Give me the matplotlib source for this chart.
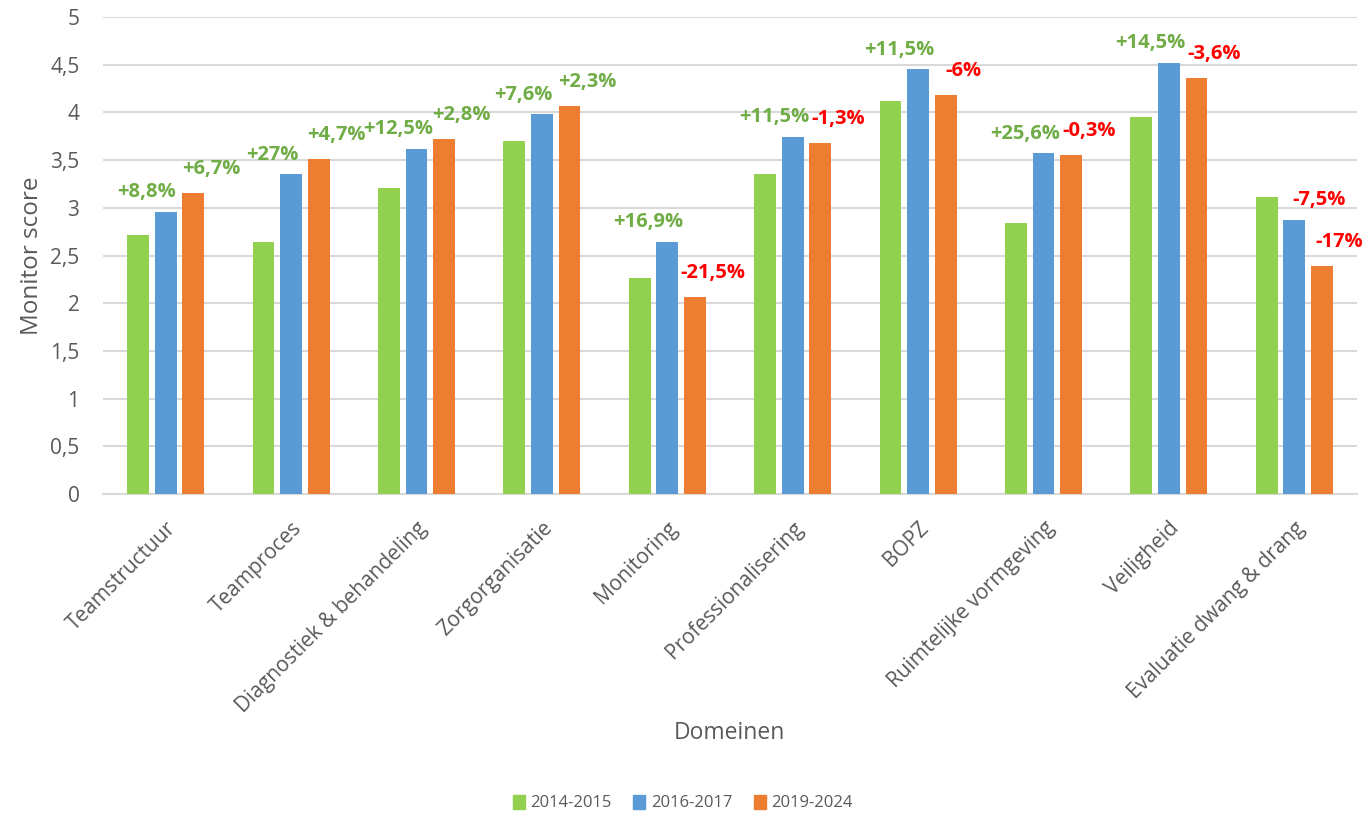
import numpy as np
import matplotlib.pyplot as plt
from matplotlib.patches import Patch

plt.rcParams['font.family'] = ['Open Sans', 'DejaVu Sans']

# Data
domeinen = ['Teamstructuur', 'Teamproces', 'Diagnostiek & behandeling', 'Zorgorganisatie',
            'Monitoring', 'Professionalisering', 'BOPZ', 'Ruimtelijke vormgeving',
            'Veiligheid', 'Evaluatie dwang & drang']
jaren = ['2014-2015', '2016-2017', '2019-2024']
score_2014 = [2.72, 2.64, 3.21, 3.70, 2.26, 3.35, 4.12, 2.84, 3.95, 3.11]
score_2016 = [2.96, 3.35, 3.62, 3.98, 2.64, 3.74, 4.45, 3.57, 4.52, 2.87]
score_2019 = [3.16, 3.51, 3.72, 4.07, 2.07, 3.68, 4.18, 3.55, 4.36, 2.39]
verschil_1 = ['+8,8%', '+27%', '+12,5%', '+7,6%', '+16,9%', '+11,5%', '+11,5%', '+25,6%', '+14,5%', '-7,5%']
verschil_2 = ['+6,7%', '+4,7%', '+2,8%', '+2,3%', '-21,5%', '-1,3%', '-6%', '-0,3%', '-3,6%', '-17%']

kleuren = ['#92D050', '#5B9BD5', '#ED7D31']
groen = '#70AD47'
rood = '#FF0000'
grijs = '#595959'

fig = plt.figure(figsize=(13.66, 8.17), dpi=100)
ax = fig.add_axes([0.0754, 0.3953, 0.918, 0.5839])

x = np.arange(len(domeinen))
w = 0.175
step = 0.22
for k, (vals, c) in enumerate(zip([score_2014, score_2016, score_2019], kleuren)):
    ax.bar(x + (k - 1) * step, vals, width=w, color=c, zorder=3)

# change labels: green ones lean left, red ones lean right
for i in range(len(domeinen)):
    t1 = verschil_1[i]
    pos = t1.startswith('+')
    ax.annotate(t1, (x[i] + (-0.15 if pos else 0.2), score_2016[i]), xytext=(0, 7),
                textcoords='offset points', ha='center', va='bottom', fontsize=14.5,
                fontweight='bold', color=groen if pos else rood, zorder=4)
    t2 = verschil_2[i]
    pos = t2.startswith('+')
    ax.annotate(t2, (x[i] + step + 0.14, score_2019[i]), xytext=(0, 10),
                textcoords='offset points', ha='center', va='bottom', fontsize=14.5,
                fontweight='bold', color=groen if pos else rood, zorder=4)

ax.set_xlim(-0.5, len(domeinen) - 0.5)
ax.set_ylim(0, 5)
ticks = np.arange(0, 5.01, 0.5)
ax.set_yticks(ticks)
ax.set_yticklabels([('%g' % v).replace('.', ',') for v in ticks])
ax.set_xticks(x)
ax.set_xticklabels(domeinen, rotation=45, ha='right', rotation_mode='anchor')
ax.tick_params(axis='both', length=0, labelsize=15, colors=grijs)
ax.tick_params(axis='x', pad=17)
ax.tick_params(axis='y', pad=17)
ax.grid(axis='y', color='#D9D9D9', linewidth=1.5, zorder=0)
for s in ['top', 'right', 'left']:
    ax.spines[s].set_visible(False)
ax.spines['bottom'].set_color('#D9D9D9')
ax.spines['bottom'].set_linewidth(1.5)

ax.set_ylabel('Monitor score', fontsize=17.5, color=grijs, labelpad=4)
fig.text(0.534, 0.103, 'Domeinen', ha='center', va='center', fontsize=16.5, color=grijs)

handles = [Patch(color=c) for c in kleuren]
fig.legend(handles, jaren, loc='center', bbox_to_anchor=(0.5, 0.017), ncol=3, frameon=False,
           fontsize=12, labelcolor=grijs, handlelength=0.7, handleheight=0.9,
           columnspacing=1.3, handletextpad=0.35)

fig.savefig('out.png', dpi=100)
